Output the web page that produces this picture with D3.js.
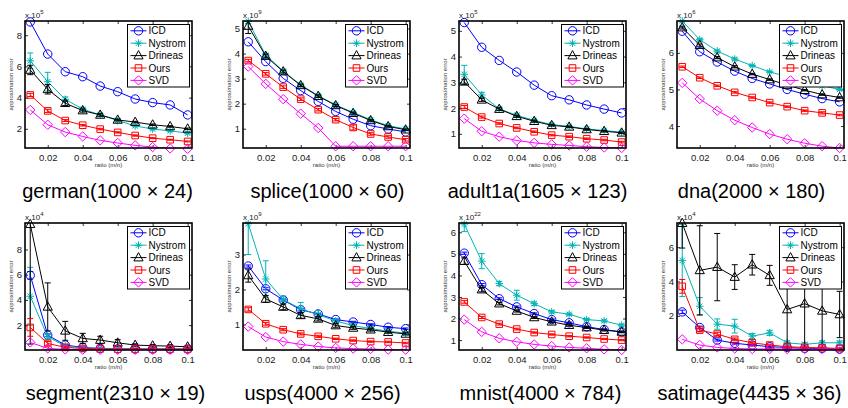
<!DOCTYPE html>
<html>
<head>
<meta charset="utf-8">
<script src="https://cdn.jsdelivr.net/npm/d3@7"></script>
<style>
  body { margin: 0; background: #fff; }
  text { font-family: Arial, "Liberation Sans", Helvetica, sans-serif; }
</style>
</head>
<body>
<svg id="chart" width="848" height="408"></svg>
<script>
// ratios m/n shared by every panel
var ratios = [0.01, 0.02, 0.03, 0.04, 0.05, 0.06, 0.07, 0.08, 0.09, 0.1]
var methods = ["ICD", "Nystrom", "Drineas", "Ours", "SVD"]
var titles = ["german(1000 × 24)", "splice(1000 × 60)", "adult1a(1605 × 123)", "dna(2000 × 180)",
              "segment(2310 × 19)", "usps(4000 × 256)", "mnist(4000 × 784)", "satimage(4435 × 36)"]
var exponents = [5, 9, 5, 6, 4, 9, 22, 4]
var xTicks = [0.02, 0.04, 0.06, 0.08, 0.1]
var yTicks = [[2, 4, 6, 8], [1, 2, 3, 4, 5], [1, 2, 3, 4, 5], [4, 5, 6],
              [2, 4, 6, 8], [1, 2, 3], [1, 2, 3, 4, 5, 6], [2, 4, 6]]
var yRanges = [[0.77, 8.91], [0.23, 5.3], [0.45, 5.38], [3.4, 6.87],
               [0.03, 10.1], [0.27, 3.9], [0.54, 6.43], [0.01, 7.41]]

// mean errors, rows: ICD, Nystrom, Drineas, Ours, SVD
var german = [
  [8.85, 6.79, 5.66, 5.34, 4.74, 4.38, 3.91, 3.68, 3.53, 2.89],
  [6.36, 5.02, 3.89, 3.26, 2.89, 2.53, 2.19, 1.98, 1.87, 1.72],
  [5.77, 4.53, 3.64, 3.17, 2.89, 2.57, 2.43, 2.26, 2.15, 2.0],
  [4.17, 3.15, 2.53, 2.23, 1.98, 1.77, 1.57, 1.40, 1.30, 1.19],
  [3.21, 2.26, 1.79, 1.51, 1.26, 1.09, 0.94, 0.83, 0.74, 0.72]]
var germanErr = [
  [0, 0, 0, 0, 0, 0, 0, 0, 0, 0],
  [0.5, 0.6, 0.15, 0.1, 0.1, 0.08, 0.06, 0.05, 0.05, 0.05],
  [0.3, 0.3, 0.15, 0.1, 0.08, 0.06, 0.05, 0.05, 0.05, 0.05],
  [0.1, 0.1, 0.06, 0.05, 0.05, 0.04, 0.04, 0.03, 0.03, 0.03],
  [0, 0, 0, 0, 0, 0, 0, 0, 0, 0]]

var splice = [
  [4.47, 3.68, 3.01, 2.52, 2.09, 1.69, 1.38, 1.12, 0.99, 0.87],
  [5.28, 3.94, 3.3, 2.75, 2.32, 1.95, 1.65, 1.36, 1.12, 0.99],
  [5.1, 3.9, 3.28, 2.73, 2.3, 1.93, 1.62, 1.33, 1.09, 0.96],
  [3.72, 3.19, 2.66, 2.18, 1.76, 1.36, 1.05, 0.79, 0.67, 0.56],
  [3.48, 2.79, 2.18, 1.6, 1.03, 0.3, 0.3, 0.3, 0.3, 0.3]]
var spliceErr = [
  [0, 0, 0, 0, 0, 0, 0, 0, 0, 0],
  [0.08, 0.05, 0.05, 0.04, 0.04, 0.03, 0.03, 0.03, 0.03, 0.03],
  [0.3, 0.08, 0.06, 0.05, 0.05, 0.04, 0.04, 0.03, 0.03, 0.03],
  [0.05, 0.05, 0.05, 0.05, 0.05, 0.05, 0.1, 0.05, 0.05, 0.05],
  [0, 0, 0, 0, 0, 0, 0, 0, 0, 0]]

var adult1a = [
  [5.32, 4.36, 3.85, 3.40, 2.89, 2.48, 2.32, 2.12, 1.96, 1.81],
  [3.31, 2.51, 1.97, 1.72, 1.52, 1.36, 1.29, 1.19, 1.13, 1.06],
  [3.02, 2.32, 1.96, 1.68, 1.49, 1.33, 1.27, 1.17, 1.1, 1.04],
  [2.04, 1.65, 1.40, 1.23, 1.08, 0.95, 0.89, 0.81, 0.76, 0.68],
  [1.59, 1.1, 0.89, 0.74, 0.65, 0.59, 0.55, 0.5, 0.47, 0.45]]
var adult1aErr = [
  [0, 0, 0, 0, 0, 0, 0, 0, 0, 0],
  [0.35, 0.1, 0.05, 0.05, 0.04, 0.04, 0.03, 0.03, 0.03, 0.03],
  [0.1, 0.06, 0.05, 0.04, 0.04, 0.03, 0.03, 0.03, 0.03, 0.03],
  [0.06, 0.04, 0.03, 0.03, 0.03, 0.03, 0.03, 0.03, 0.03, 0.03],
  [0, 0, 0, 0, 0, 0, 0, 0, 0, 0]]

var dna = [
  [6.59, 6.03, 5.75, 5.5, 5.3, 5.15, 5.0, 4.87, 4.75, 4.66],
  [6.87, 6.36, 6.05, 5.83, 5.65, 5.48, 5.35, 5.22, 5.1, 5.0],
  [6.69, 6.21, 5.87, 5.62, 5.42, 5.27, 5.12, 4.98, 4.86, 4.78],
  [5.62, 5.32, 5.1, 4.92, 4.78, 4.64, 4.53, 4.42, 4.36, 4.3],
  [5.18, 4.74, 4.42, 4.16, 3.96, 3.78, 3.64, 3.53, 3.45, 3.4]]
var dnaErr = [
  [0, 0, 0, 0, 0, 0, 0, 0, 0, 0],
  [0.03, 0.03, 0.03, 0.03, 0.02, 0.02, 0.02, 0.02, 0.02, 0.02],
  [0.04, 0.03, 0.03, 0.03, 0.02, 0.02, 0.02, 0.02, 0.02, 0.02],
  [0.02, 0.02, 0.02, 0.02, 0.02, 0.02, 0.02, 0.02, 0.03, 0.02],
  [0, 0, 0, 0, 0, 0, 0, 0, 0, 0]]

var segment = [
  [5.95, 1.21, 0.42, 0.24, 0.15, 0.12, 0.1, 0.1, 0.1, 0.1],
  [4.29, 1.08, 0.34, 0.2, 0.15, 0.12, 0.1, 0.1, 0.1, 0.1],
  [10.0, 3.45, 1.55, 0.95, 0.82, 0.6, 0.42, 0.37, 0.34, 0.29],
  [1.82, 0.55, 0.24, 0.15, 0.12, 0.1, 0.1, 0.1, 0.1, 0.1],
  [0.63, 0.16, 0.08, 0.06, 0.05, 0.05, 0.05, 0.05, 0.05, 0.05]]
var segmentErr = [
  [0.3, 0.1, 0.05, 0.05, 0.03, 0.03, 0.03, 0.03, 0.03, 0.03],
  [2.3, 0.2, 0.1, 0.05, 0.05, 0.03, 0.03, 0.03, 0.03, 0.03],
  [9.5, 1.9, 0.75, 0.4, 0.3, 0.25, 0.1, 0.1, 0.1, 0.1],
  [0.7, 0.15, 0.08, 0.05, 0.03, 0.03, 0.03, 0.03, 0.03, 0.03],
  [0, 0, 0, 0, 0, 0, 0, 0, 0, 0]]

var usps = [
  [2.67, 2.02, 1.7, 1.42, 1.3, 1.14, 1.07, 1.0, 0.92, 0.88],
  [3.88, 2.3, 1.71, 1.45, 1.28, 1.1, 0.97, 0.88, 0.81, 0.75],
  [2.4, 1.73, 1.5, 1.26, 1.16, 0.97, 0.9, 0.85, 0.78, 0.73],
  [1.43, 1.02, 0.85, 0.73, 0.66, 0.59, 0.54, 0.51, 0.5, 0.47],
  [0.94, 0.64, 0.51, 0.43, 0.37, 0.33, 0.31, 0.3, 0.28, 0.28]]
var uspsErr = [
  [0.03, 0.03, 0.03, 0.03, 0.02, 0.02, 0.02, 0.02, 0.02, 0.02],
  [0.88, 0.52, 0.1, 0.18, 0.12, 0.05, 0.04, 0.04, 0.03, 0.03],
  [0.19, 0.1, 0.08, 0.08, 0.06, 0.05, 0.04, 0.04, 0.03, 0.03],
  [0.05, 0.04, 0.03, 0.03, 0.03, 0.02, 0.02, 0.02, 0.02, 0.02],
  [0, 0, 0, 0, 0, 0, 0, 0, 0, 0]]

var mnist = [
  [5.03, 3.57, 2.92, 2.54, 2.23, 1.95, 1.8, 1.62, 1.49, 1.38],
  [6.38, 4.66, 3.62, 3.08, 2.69, 2.31, 2.2, 1.95, 1.89, 1.69],
  [4.66, 3.34, 2.69, 2.35, 2.05, 1.85, 1.69, 1.58, 1.46, 1.38],
  [2.77, 2.05, 1.74, 1.51, 1.35, 1.26, 1.18, 1.12, 1.05, 1.0],
  [1.95, 1.38, 1.08, 0.92, 0.8, 0.72, 0.66, 0.62, 0.57, 0.54]]
var mnistErr = [
  [0.05, 0.05, 0.04, 0.04, 0.03, 0.03, 0.03, 0.03, 0.03, 0.03],
  [0.35, 0.35, 0.1, 0.23, 0.08, 0.06, 0.05, 0.05, 0.05, 0.05],
  [0.15, 0.1, 0.06, 0.05, 0.05, 0.04, 0.04, 0.04, 0.04, 0.04],
  [0.06, 0.05, 0.04, 0.04, 0.03, 0.03, 0.03, 0.03, 0.03, 0.03],
  [0, 0, 0, 0, 0, 0, 0, 0, 0, 0]]

var satimage = [
  [2.23, 1.32, 0.59, 0.4, 0.3, 0.2, 0.16, 0.1, 0.1, 0.06],
  [5.23, 2.56, 1.52, 1.4, 0.82, 1.01, 0.43, 0.34, 0.43, 0.43],
  [7.4, 4.65, 4.84, 4.26, 4.98, 4.36, 2.37, 2.71, 2.29, 2.08],
  [3.72, 1.17, 0.94, 0.63, 0.43, 0.3, 0.2, 0.16, 0.14, 0.1],
  [0.63, 0.3, 0.16, 0.1, 0.07, 0.07, 0.07, 0.07, 0.07, 0.07]]
var satimageErr = [
  [0.1, 0.08, 0.06, 0.05, 0.04, 0.03, 0.03, 0.03, 0.03, 0.03],
  [2.1, 0.5, 0.3, 0.4, 0.15, 0.15, 0.1, 0.1, 0.1, 0.1],
  [1.45, 2.6, 1.96, 0.72, 0.6, 0.58, 2.3, 2.6, 2.2, 1.35],
  [0.4, 0.1, 0.1, 0.08, 0.06, 0.05, 0.04, 0.04, 0.04, 0.04],
  [0, 0, 0, 0, 0, 0, 0, 0, 0, 0]]

var means = [german, splice, adult1a, dna, segment, usps, mnist, satimage]
var errs = [germanErr, spliceErr, adult1aErr, dnaErr, segmentErr, uspsErr, mnistErr, satimageErr]

// looks
var colors = ["#0000ff", "#00b4b4", "#000000", "#ff0000", "#ff00ff"]
var markerType = ["circle", "star", "triangle", "square", "diamond"]
var colLeft = [25, 243, 459, 677], rowTop = [21, 223]
var boxW = 167, boxH = 127
var titleShift = [-1, 1, -5, -9, 7, -4, -2, -11]

function markerPath(t) {
  if (t == "circle") return "M4.2,0A4.2,4.2 0 1,1 -4.2,0A4.2,4.2 0 1,1 4.2,0Z"
  if (t == "square") return "M-3.3,-3.3H3.3V3.3H-3.3Z"
  if (t == "triangle") return "M0,-5L4.6,3.3L-4.6,3.3Z"
  if (t == "diamond") return "M0,-4.7L4.7,0L0,4.7L-4.7,0Z"
  return "M0,-3.8V3.8M-3.8,0H3.8M-2.7,-2.7L2.7,2.7M-2.7,2.7L2.7,-2.7"
}

var svg = d3.select("#chart")

titles.forEach(function(title, p) {
  var left = colLeft[p % 4], top = rowTop[Math.floor(p / 4)]
  var g = svg.append("g").attr("transform", "translate(" + left + "," + top + ")")

  var x = d3.scaleLinear().domain([0.007, 0.1025]).range([0, boxW])
  var y = d3.scaleLinear().domain(yRanges[p]).range([boxH, 0])

  g.append("clipPath").attr("id", "clip" + p)
    .append("rect").attr("width", boxW).attr("height", boxH)

  // axes with inward ticks on all four sides
  var fmt = function(d) { return String(+d.toFixed(2)) }
  var ax = g.append("g").attr("transform", "translate(0," + boxH + ")")
    .call(d3.axisBottom(x).tickValues(xTicks).tickSize(-3).tickPadding(6).tickFormat(fmt))
  g.append("g").call(d3.axisTop(x).tickValues(xTicks).tickSize(-3).tickFormat(""))
  var ay = g.append("g")
    .call(d3.axisLeft(y).tickValues(yTicks[p]).tickSize(-3).tickPadding(3).tickFormat(d3.format("d")))
  g.append("g").attr("transform", "translate(" + boxW + ",0)")
    .call(d3.axisRight(y).tickValues(yTicks[p]).tickSize(-3).tickFormat(""))
  g.selectAll(".domain").remove()
  g.selectAll(".tick line").attr("stroke", "#000").attr("stroke-width", 0.8)
  g.selectAll(".tick text").attr("font-size", 9.5).attr("fill", "#1a1a1a")
    .style("font-family", "Arial, 'Liberation Sans', sans-serif")

  var line = d3.line().x(function(d, i) { return x(ratios[i]) }).y(function(d) { return y(d) })

  means[p].forEach(function(vals, s) {
    var c = colors[s]
    var sg = g.append("g")
    sg.append("path").attr("d", line(vals)).attr("fill", "none")
      .attr("stroke", c).attr("stroke-width", 1).attr("clip-path", "url(#clip" + p + ")")
    var eb = sg.append("g").attr("clip-path", "url(#clip" + p + ")")
    vals.forEach(function(v, i) {
      var e = errs[p][s][i]
      if (!e) return
      var cx = x(ratios[i])
      eb.append("path")
        .attr("d", "M" + cx + "," + y(v - e) + "V" + y(v + e) +
                   "M" + (cx - 3) + "," + y(v - e) + "H" + (cx + 3) +
                   "M" + (cx - 3) + "," + y(v + e) + "H" + (cx + 3))
        .attr("stroke", c).attr("stroke-width", 1).attr("fill", "none")
    })
    sg.selectAll(".mk").data(vals).enter().append("path")
      .attr("class", "mk")
      .attr("transform", function(d, i) { return "translate(" + x(ratios[i]) + "," + y(d) + ")" })
      .attr("d", markerPath(markerType[s]))
      .attr("fill", "none").attr("stroke", c).attr("stroke-width", 1)
  })

  // box
  g.append("rect").attr("width", boxW).attr("height", boxH)
    .attr("fill", "none").attr("stroke", "#000").attr("stroke-width", 1.6)

  // legend
  var lw = 62, lh = 62.5, lx = boxW - 2.5 - lw, ly = 3.5
  var lg = g.append("g").attr("transform", "translate(" + lx + "," + ly + ")")
  lg.append("rect").attr("width", lw).attr("height", lh)
    .attr("fill", "#fff").attr("stroke", "#000").attr("stroke-width", 1)
  methods.forEach(function(m, s) {
    var yy = 6.3 + s * 12.4
    lg.append("line").attr("x1", 3).attr("x2", 19).attr("y1", yy).attr("y2", yy)
      .attr("stroke", colors[s]).attr("stroke-width", 1)
    lg.append("path").attr("transform", "translate(11," + yy + ")")
      .attr("d", markerPath(markerType[s])).attr("fill", "none")
      .attr("stroke", colors[s]).attr("stroke-width", 1)
    lg.append("text").attr("x", 21).attr("y", yy).attr("dy", "0.35em")
      .attr("font-size", 10).attr("fill", "#000").text(m)
  })

  // exponent
  var ex = g.append("text").attr("x", 0).attr("y", -3.5).attr("font-size", 8).attr("fill", "#1a1a1a")
  ex.append("tspan").text("x 10")
  ex.append("tspan").attr("dy", -3.5).attr("font-size", 6).text(exponents[p])

  // axis labels
  g.append("text").attr("transform", "translate(-12," + boxH / 2 + ") rotate(-90)")
    .attr("text-anchor", "middle").attr("font-size", 6).attr("fill", "#333")
    .text("approximation error")
  g.append("text").attr("x", boxW / 2).attr("y", boxH + 18.5)
    .attr("text-anchor", "middle").attr("font-size", 6).attr("fill", "#333")
    .text("ratio (m/n)")

  // title
  g.append("text").attr("x", boxW / 2 + titleShift[p]).attr("y", boxH + 50)
    .attr("text-anchor", "middle").attr("font-size", 20).attr("fill", "#000")
    .text(title)
})
</script>
</body>
</html>
